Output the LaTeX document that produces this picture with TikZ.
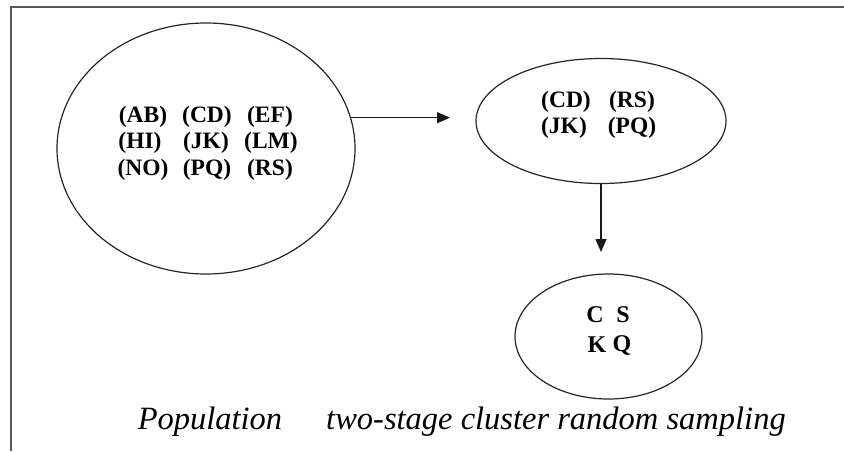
\documentclass[tikz,border=0pt]{standalone}
\usepackage{fontspec}
\setmainfont{Liberation Serif}
\usetikzlibrary{shapes.geometric,arrows.meta}

\tikzset{
  set/.style={draw=black!85, line width=1.2pt, ellipse, inner sep=0pt},
  pair/.style={font=\fontsize{23.5}{26}\selectfont\bfseries, inner sep=0pt, anchor=center},
  letter/.style={font=\fontsize{24}{28}\selectfont\bfseries, inner sep=0pt, anchor=center},
  caption/.style={font=\fontsize{32.5}{38}\selectfont\itshape, inner sep=0pt, anchor=center},
  flow/.style={line width=1.6pt, draw=black!90, -{Triangle[length=13pt,width=11pt]}},
  frame/.style={line width=1.6pt, draw=black!65}
}

\begin{document}
\begin{tikzpicture}[x=1pt, y=-1pt]
  \useasboundingbox (0,0) rectangle (844,451);
  \fill[white] (0,0) rectangle (844,451);

  % open frame: top and left edges only
  \draw[frame] (11,451) -- (11,7) -- (844,7);

  % the three sets
  \node[set, minimum width=298pt, minimum height=251pt] (pop) at (206,148.5) {};
  \node[set, minimum width=250pt, minimum height=125pt] (stage1) at (601,121) {};
  \node[set, minimum width=187pt, minimum height=125pt] (stage2) at (608.5,336.5) {};

  % clusters of the population
  \node[pair] (ab) at (143,117) {(AB)};
  \node[pair] (cd) at (207,117) {(CD)};
  \node[pair] (ef) at (270,117) {(EF)};
  \node[pair] (hi) at (140,143) {(HI)};
  \node[pair] (jk) at (206,143) {(JK)};
  \node[pair] (lm) at (271,143) {(LM)};
  \node[pair] (no) at (143,170) {(NO)};
  \node[pair] (pq) at (207,170) {(PQ)};
  \node[pair] (rs) at (270,170) {(RS)};

  % clusters chosen at the first stage
  \node[pair] (cd1) at (566,102) {(CD)};
  \node[pair] (rs1) at (632,102) {(RS)};
  \node[pair] (jk1) at (564,128) {(JK)};
  \node[pair] (pq1) at (632,128) {(PQ)};

  % units chosen at the second stage
  \node[letter] (c2) at (595,315) {C};
  \node[letter] (s2) at (623,315) {S};
  \node[letter] (k2) at (597,345) {K};
  \node[letter] (q2) at (622,345) {Q};

  % connectors
  \coordinate (a1end) at (450,118);
  \coordinate (a2end) at (603,252);
  \draw[flow] (pop.12) -- (a1end |- pop.12);
  \draw[flow] (stage1.south) -- (stage1.south |- a2end);

  % caption
  \node[caption] (poplabel) at (210,422) {Population};
  \node[caption] (samplabel) at (556,422) {two-stage cluster random sampling};
\end{tikzpicture}
\end{document}
